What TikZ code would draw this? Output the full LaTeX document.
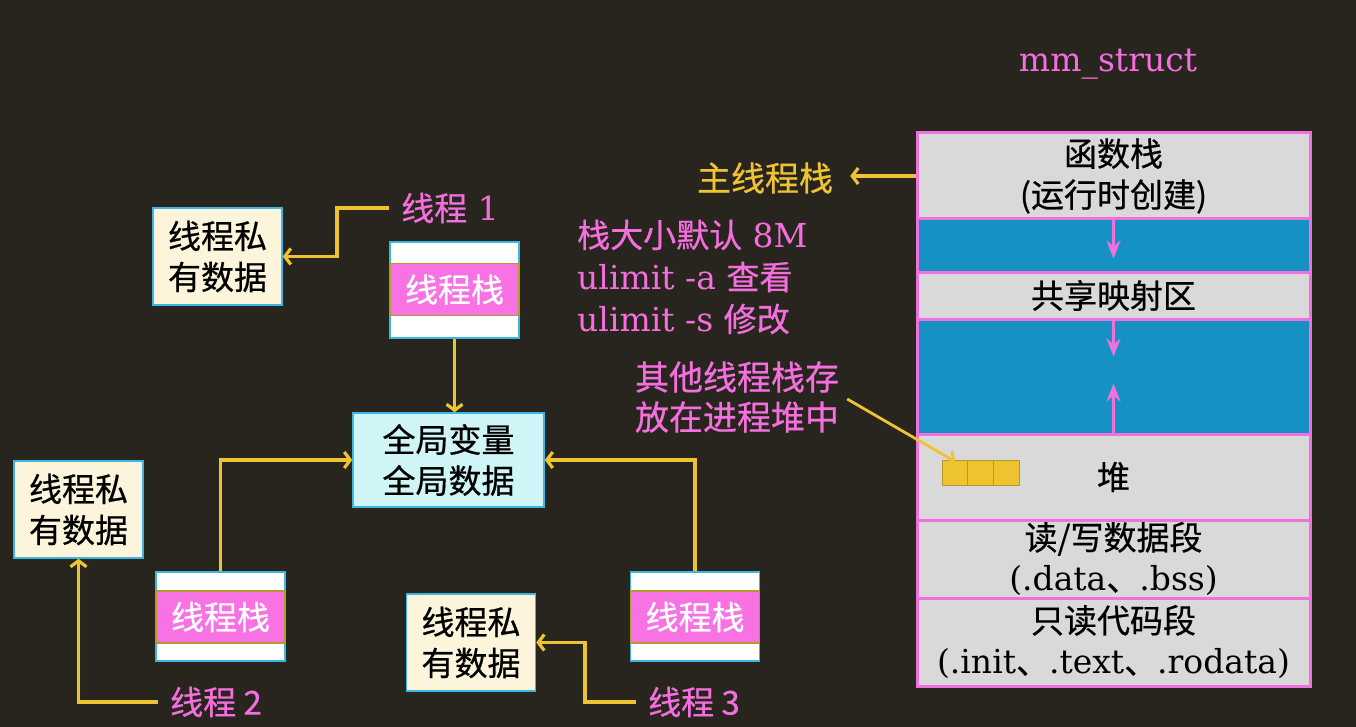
\documentclass[tikz,border=0pt]{standalone}
\usepackage{fontspec}
\setmainfont{DejaVu Serif}
\newfontfamily\cjk[FakeBold=0.6]{Noto Sans CJK SC}
\usetikzlibrary{arrows.meta}
\definecolor{bgc}{HTML}{28251F}
\definecolor{ptext}{HTML}{F46FDD}
\definecolor{yel}{HTML}{EEC332}
\definecolor{bandblue}{HTML}{1592C3}
\definecolor{segray}{HTML}{D9D9D9}
\definecolor{mpink}{HTML}{F070E0}
\definecolor{cream}{HTML}{FCF5DC}
\definecolor{lcyan}{HTML}{CFF5F7}
\definecolor{lblue}{HTML}{3CB6E3}
\definecolor{spink}{HTML}{F872E3}
\definecolor{olive}{HTML}{B59A2A}
\begin{document}
\begin{tikzpicture}[x=1pt,y=-1pt,
  fnt/.style={font={\fontsize{33}{41}\selectfont}},
  seg/.style={fnt, draw=mpink, line width=3pt, fill=segray, minimum width=393pt, inner sep=0pt, align=center, text=black},
  bseg/.style={seg, fill=bandblue},
  databox/.style={fnt, draw=lblue, line width=1.5pt, fill=cream, minimum width=129pt, minimum height=97pt, inner sep=0pt, align=center, text=black},
  stackbox/.style={draw=lblue, line width=1.5pt, fill=white, minimum width=129pt, inner sep=0pt},
  stackband/.style={fnt, draw=olive, line width=1.2pt, fill=spink, minimum width=129pt, minimum height=52pt, inner sep=0pt, text=white},
  lbl/.style={fnt, text=ptext, inner sep=6pt},
  yline/.style={draw=yel, line width=3.2pt},
  yarr/.style={yline, -{Straight Barb[length=6pt,width=16pt]}},
  parr/.style={draw=mpink, line width=3.5pt, -{Stealth[length=18pt,width=14pt,inset=6pt]}},
  cell/.style={draw=olive, line width=1pt, fill=yel, minimum width=25.7pt, minimum height=25pt, inner sep=0pt}
]
\useasboundingbox (0,0) rectangle (1356,727);
\fill[bgc] (0,0) rectangle (1356,727);

% mm_struct title
\node[lbl] (mm) at (1108,64) {mm\_struct};

% memory segments
\node[seg, minimum height=86pt] (fs) at (1113.5,176) {{\cjk 函数栈}\\{\cjk (运行时创建)}};
\node[bseg, minimum height=53pt] (b1) at (1113.5,245.5) {};
\node[seg, minimum height=47pt] (sh) at (1113.5,295.5) {\cjk 共享映射区};
\node[bseg, minimum height=115pt] (b2) at (1113.5,376.5) {};
\node[seg, minimum height=86pt] (heap) at (1113.5,477) {\cjk 堆};
\node[seg, minimum height=78pt] (rw) at (1113.5,559) {{\cjk 读/写数据段}\\(.data{\cjk 、}.bss)};
\node[seg, minimum height=88pt] (ro) at (1113.5,642) {{\cjk 只读代码段}\\(.init{\cjk 、}.text{\cjk 、}.rodata)};

\draw[parr] (fs.south) -- ++(0,38);
\draw[parr] (sh.south) -- ++(0,36);
\draw[parr] (heap.north) -- ++(0,-49);

% heap cells
\node[cell] (hc1) at (955,472.5) {};
\node[cell] (hc2) at (980.6,472.5) {};
\node[cell] (hc3) at (1006.3,472.5) {};

% main thread stack label
\node[fnt, text=yel, inner sep=0pt, font={\fontsize{34}{41}\selectfont}] (mt) at (765,178) {\cjk 主线程栈};
\draw[yarr] (fs.west) -- ([xshift=17pt]mt.east |- fs.west);

% ulimit notes
\node[fnt, text=ptext, anchor=west, align=left, inner sep=0pt, font={\fontsize{33}{42}\selectfont}] (note) at (577,277)
  {{\cjk 栈大小默认} 8M\\ulimit -a {\cjk 查看}\\ulimit -s {\cjk 修改}};

% other thread stacks note
\node[fnt, text=ptext, align=center, inner sep=8pt, font={\fontsize{34}{40}\selectfont}] (oth) at (737,397)
  {{\cjk 其他线程栈存}\\{\cjk 放在进程堆中}};
\draw[yline, line width=2.8pt, -{Straight Barb[length=6pt,width=15pt]}] ([yshift=-2pt]oth.east) -- ([yshift=-2pt]hc1.north);

% global data
\node[databox, fill=lcyan, minimum width=191pt, minimum height=94pt] (g) at (448.5,460) {{\cjk 全局变量}\\{\cjk 全局数据}};

% thread 1
\node[databox] (d1) at (217.5,256.5) {{\cjk 线程私}\\{\cjk 有数据}};
\node[stackbox, minimum height=96pt] (s1) at (454.5,290) {};
\node[stackband] (sb1) at (454.5,289.5) {\cjk 线程栈};
\node[lbl, inner sep=12pt] (t1) at (450,208) {{\cjk 线程} 1};
\coordinate (c1) at (337,208);
\draw[yarr] (t1.west) -- (c1) |- (d1.east);
\draw[yarr] (s1.south) -- (s1.south |- g.north);

% thread 2
\node[databox] (d2) at (78.5,509.5) {{\cjk 线程私}\\{\cjk 有数据}};
\node[stackbox, minimum height=89pt] (s2) at (220.5,616.5) {};
\node[stackband] (sb2) at (220.5,617) {\cjk 线程栈};
\node[lbl, inner sep=12pt] (t2) at (216,702) {\cjk 线程 2};
\draw[yarr] (t2.west) -| (d2.south);
\draw[yarr] (s2.north) |- (g.west);

% thread 3
\node[databox] (d3) at (471,642.5) {{\cjk 线程私}\\{\cjk 有数据}};
\node[stackbox, minimum height=89pt] (s3) at (695,616.5) {};
\node[stackband] (sb3) at (695,617) {\cjk 线程栈};
\node[lbl, inner sep=12pt] (t3) at (694,702) {\cjk 线程 3};
\coordinate (c3) at (585,702);
\draw[yarr] (t3.west) -- (c3) |- (d3.east);
\draw[yarr] (s3.north) |- (g.east);
\end{tikzpicture}
\end{document}
